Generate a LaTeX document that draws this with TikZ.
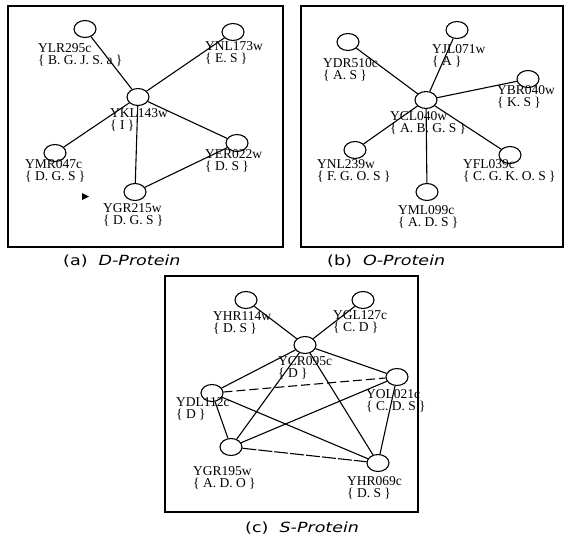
\documentclass[tikz,border=0pt]{standalone}
\usepackage{fontspec}
\setmainfont{Liberation Serif}
\newfontfamily\capfont[FakeStretch=1.25]{DejaVu Sans}
\usetikzlibrary{shapes.geometric}
\begin{document}
\begin{tikzpicture}[x=1pt,y=-1pt,
  gene/.style={draw, ellipse, line width=1.1pt, minimum width=22pt, minimum height=17pt, inner sep=0pt, fill=white},
  lab/.style={anchor=north west, inner sep=0pt, align=left, font=\fontsize{13.5}{12.5}\selectfont},
  edge/.style={line width=1.1pt},
  panel/.style={draw, line width=1.2pt},
  captxt/.style={anchor=west, inner sep=0pt, font=\capfont\fontsize{14}{16}\selectfont}]
\useasboundingbox (0,0) rectangle (568,538);
% ---------- panel (a) ----------
\draw[panel] (8,6) rectangle (283,247);
\node[gene] (a1) at (85,29) {};
\node[gene] (a2) at (233,32) {};
\node[gene] (a3) at (138,97) {};
\node[gene] (a4) at (55,153) {};
\node[gene] (a5) at (237,143) {};
\node[gene] (a6) at (135,192) {};
\draw[edge] (a3) -- (a1);
\draw[edge] (a3) -- (a2);
\draw[edge] (a3) -- (a4);
\draw[edge] (a3) -- (a5);
\draw[edge] (a3) -- (a6);
\draw[edge] (a6) -- (a5);
\node[lab] (la1) at (38,43) {YLR295c\\\{ B. G. J. S. a \}};
\node[lab] (la2) at (205,41) {YNL173w\\\{ E. S \}};
\node[lab] (la3) at (110,108) {YKL143w\\\{ I \}};
\node[lab] (la4) at (25,159) {YMR047c\\\{ D. G. S \}};
\node[lab] (la5) at (205,149) {YER022w\\\{ D. S \}};
\node[lab] (la6) at (103,203) {YGR215w\\\{ D. G. S \}};
\fill (82,193) -- (89,196.5) -- (82,200) -- cycle;
\node[captxt] (capa) at (63,261) {(a)\ \ \textit{D-Protein}};
% ---------- panel (b) ----------
\draw[panel] (301,6) rectangle (563,247);
\node[gene] (b1) at (457,30) {};
\node[gene] (b2) at (348,42) {};
\node[gene] (b3) at (528,79) {};
\node[gene] (b4) at (426,100) {};
\node[gene] (b5) at (355,150) {};
\node[gene] (b6) at (510,155) {};
\node[gene] (b7) at (427,192) {};
\draw[edge] (b4) -- (b1);
\draw[edge] (b4) -- (b2);
\draw[edge] (b4) -- (b3);
\draw[edge] (b4) -- (b5);
\draw[edge] (b4) -- (b6);
\draw[edge] (b4) -- (b7);
\node[lab] (lb1) at (432,44) {YJL071w\\\{ A \}};
\node[lab] (lb2) at (323,58) {YDR510c\\\{ A. S \}};
\node[lab] (lb3) at (497,85) {YBR040w\\\{ K. S \}};
\node[lab] (lb4) at (390,111) {YCL040w\\\{ A. B. G. S \}};
\node[lab] (lb5) at (317,159) {YNL239w\\\{ F. G. O. S \}};
\node[lab] (lb6) at (463,159) {YFL039c\\\{ C. G. K. O. S \}};
\node[lab] (lb7) at (398,205) {YML099c\\\{ A. D. S \}};
\node[captxt] (capb) at (327,261) {(b)\ \ \textit{O-Protein}};
% ---------- panel (c) ----------
\draw[panel] (165,276) rectangle (418,512);
\node[gene] (c1) at (246,300) {};
\node[gene] (c2) at (363,300) {};
\node[gene] (c3) at (305,345) {};
\node[gene] (c4) at (397,377) {};
\node[gene] (c5) at (212,393) {};
\node[gene] (c6) at (231,447) {};
\node[gene] (c7) at (378,463) {};
\draw[edge] (c3) -- (c1);
\draw[edge] (c3) -- (c2);
\draw[edge] (c3) -- (c4);
\draw[edge] (c3) -- (c5);
\draw[edge] (c3) -- (c6);
\draw[edge] (c3) -- (c7);
\draw[edge, dash pattern=on 9pt off 4pt] (c5) -- (c4);
\draw[edge] (c5) -- (c6);
\draw[edge] (c5) -- (c7);
\draw[edge] (c6) -- (c4);
\draw[edge, dash pattern=on 14pt off 2pt] (c6) -- (c7);
\draw[edge] (c4) -- (c7);
\node[lab] (lc1) at (213,311) {YHR114w\\\{ D. S \}};
\node[lab] (lc2) at (333,310) {YGL127c\\\{ C. D \}};
\node[lab] (lc3) at (278,356) {YCR095c\\\{ D \}};
\node[lab] (lc4) at (366,389) {YOL021c\\\{ C. D. S \}};
\node[lab] (lc5) at (176,397) {YDL112c\\\{ D \}};
\node[lab] (lc6) at (193,466) {YGR195w\\\{ A. D. O \}};
\node[lab] (lc7) at (347,476) {YHR069c\\\{ D. S \}};
\node[captxt] (capc) at (245,528) {(c)\ \ \textit{S-Protein}};
\end{tikzpicture}
\end{document}
